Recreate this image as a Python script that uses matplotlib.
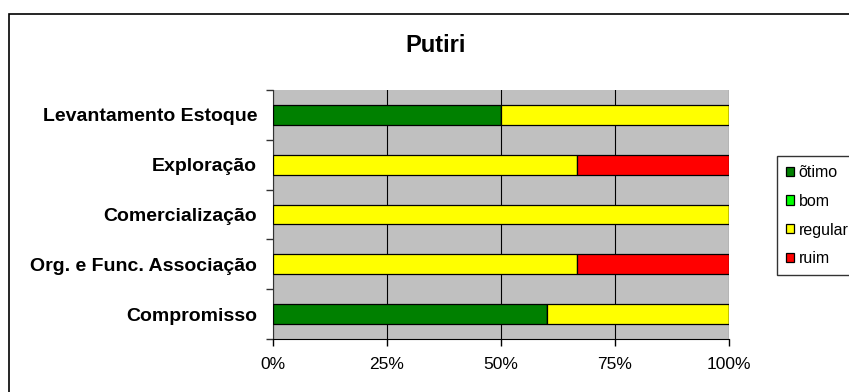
import numpy as np
import matplotlib.pyplot as plt
from matplotlib.patches import Rectangle

plt.rcParams['font.family'] = ['Liberation Sans', 'DejaVu Sans']

categorias = ['Compromisso', 'Org. e Func. Associação', 'Comercialização',
              'Exploração', 'Levantamento Estoque']
otimo = [60, 0, 0, 0, 50]
bom = [0, 0, 0, 0, 0]
regular = [40, 66.7, 100, 66.7, 50]
ruim = [0, 33.3, 0, 33.3, 0]

series = [('õtimo', otimo, '#008000'), ('bom', bom, '#00FF00'),
          ('regular', regular, '#FFFF00'), ('ruim', ruim, '#FF0000')]
xticks = [0, 25, 50, 75, 100]
xlabels = ['0%', '25%', '50%', '75%', '100%']

fig = plt.figure(figsize=(8.49, 3.92), dpi=100)
# moldura externa (corta na borda direita/inferior)
fig.patches.append(Rectangle((9 / 849, -0.1), 1.0, 1 - 14 / 392 + 0.1,
                             transform=fig.transFigure, fill=False,
                             edgecolor='black', linewidth=1.2))

ax = fig.add_axes([273 / 849, 1 - 339 / 392, (729 - 273) / 849, (339 - 90) / 392])
ax.set_facecolor('#C0C0C0')

y = np.arange(len(categorias))
esquerda = np.zeros(len(categorias))
for nome, vals, cor in series:
    vals = np.array(vals, dtype=float)
    ax.barh(y, vals, left=esquerda, height=0.4, color=cor, edgecolor='black',
            linewidth=0.9, label=nome, zorder=3)
    esquerda += vals

ax.set_xlim(0, 100)
ax.set_ylim(-0.5, len(categorias) - 0.5)
ax.set_xticks(xticks)
ax.set_xticklabels(xlabels, fontsize=12.5)
ax.set_yticks(y)
ax.set_yticklabels(categorias, fontsize=14, fontweight='bold')
ax.tick_params(axis='y', length=0, pad=11.5)
ax.set_yticks(np.arange(-0.5, len(categorias)), minor=True)
ax.tick_params(axis='y', which='minor', length=5, width=1, color='#333333')
ax.tick_params(axis='x', length=5, width=1, pad=8)
ax.grid(axis='x', color='black', linewidth=0.8, zorder=1)
for s in ['top', 'right']:
    ax.spines[s].set_visible(False)
ax.spines['left'].set_color('#333333')
ax.spines['bottom'].set_color('black')

fig.text(436 / 849, 1 - 46 / 392, 'Putiri', ha='center', va='center',
         fontsize=17, fontweight='bold')

handles, labels = ax.get_legend_handles_labels()
leg = fig.legend(handles, labels, loc='upper left',
                 bbox_to_anchor=(777 / 849, 1 - 156 / 392), fontsize=11.5,
                 frameon=True, fancybox=False, handlelength=0.5,
                 handleheight=0.5, handletextpad=0.3, labelspacing=0.87,
                 borderpad=0.55, borderaxespad=0)
leg.get_frame().set_edgecolor('black')
leg.get_frame().set_linewidth(1)

fig.savefig('out.png', dpi=100)
